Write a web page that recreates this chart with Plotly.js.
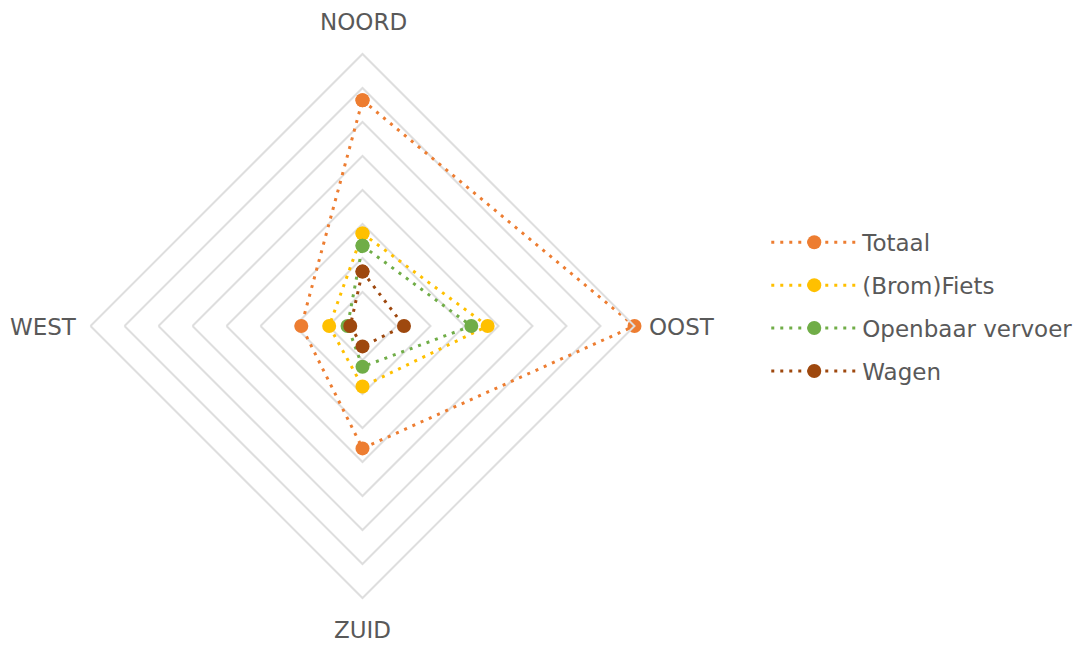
<!DOCTYPE html>
<html>
<head>
<meta charset="utf-8">
<script src="https://cdn.plot.ly/plotly-3.0.1.min.js"></script>
<style>html,body{margin:0;padding:0;background:#fff;}#chart{width:1090px;height:650px;}</style>
</head>
<body>
<div id="chart"></div>
<script>
const categories = ["NOORD", "OOST", "ZUID", "WEST"];
const seriesNames = ["Totaal", "(Brom)Fiets", "Openbaar vervoer", "Wagen"];
const totaal = [33.2, 40.0, 18.0, 9.0];
const fiets = [13.6, 18.4, 8.9, 4.9];
const openbaarVervoer = [11.8, 16.0, 6.0, 2.2];
const wagen = [8.0, 6.1, 3.0, 1.8];
const seriesValues = [totaal, fiets, openbaarVervoer, wagen];
const seriesColors = ["#ED7D31", "#FFC000", "#70AD47", "#9E480E"];

const closed = arr => arr.concat([arr[0]]);

const traces = seriesValues.map((vals, i) => ({
  type: "scatterpolar",
  mode: "lines+markers",
  name: seriesNames[i],
  legendgroup: "g" + i,
  r: closed(vals),
  theta: closed(categories),
  line: {color: seriesColors[i], width: 3, dash: "3px,6px"},
  marker: {color: seriesColors[i], size: 14},
  hoverinfo: "skip"
}));

const cx = 362.5, cy = 326, R = 272;
const W = 1090, H = 650;
const FONT = {family: "DejaVu Sans, sans-serif", size: 23, color: "#595959"};

// category label placement (pixel anchors around the diamond)
const labelAnchors = [
  {px: 363, py: 22, xa: "center"},
  {px: 647, py: 327, xa: "left"},
  {px: 362, py: 630, xa: "center"},
  {px: 79, py: 327, xa: "right"}
];
const annotations = categories.map((c, i) => ({
  text: c, showarrow: false,
  xref: "paper", yref: "paper",
  x: labelAnchors[i].px / W, y: 1 - labelAnchors[i].py / H,
  xanchor: labelAnchors[i].xa, yanchor: "middle",
  font: FONT
}));

const layout = {
  width: W, height: H,
  margin: {l: 0, r: 0, t: 0, b: 0},
  paper_bgcolor: "#ffffff",
  font: FONT,
  showlegend: true,
  annotations: annotations,
  legend: {
    x: 0.703, y: 0.528, xanchor: "left", yanchor: "middle",
    itemwidth: 86, tracegroupgap: 10, traceorder: "grouped",
    font: FONT
  },
  polar: {
    domain: {x: [(cx - R) / W, (cx + R) / W], y: [(H - cy - R) / H, (H - cy + R) / H]},
    gridshape: "linear",
    bgcolor: "#ffffff",
    radialaxis: {
      range: [0, 40], dtick: 5, showticklabels: false, ticks: "",
      showline: false, gridcolor: "#dedede", gridwidth: 2
    },
    angularaxis: {
      type: "category", categoryarray: categories,
      direction: "clockwise", rotation: 90,
      showgrid: false, showline: true, linecolor: "#dedede", linewidth: 2,
      ticks: "", showticklabels: false
    }
  }
};

Plotly.newPlot("chart", traces, layout, {staticPlot: true, displayModeBar: false});
</script>
</body>
</html>
